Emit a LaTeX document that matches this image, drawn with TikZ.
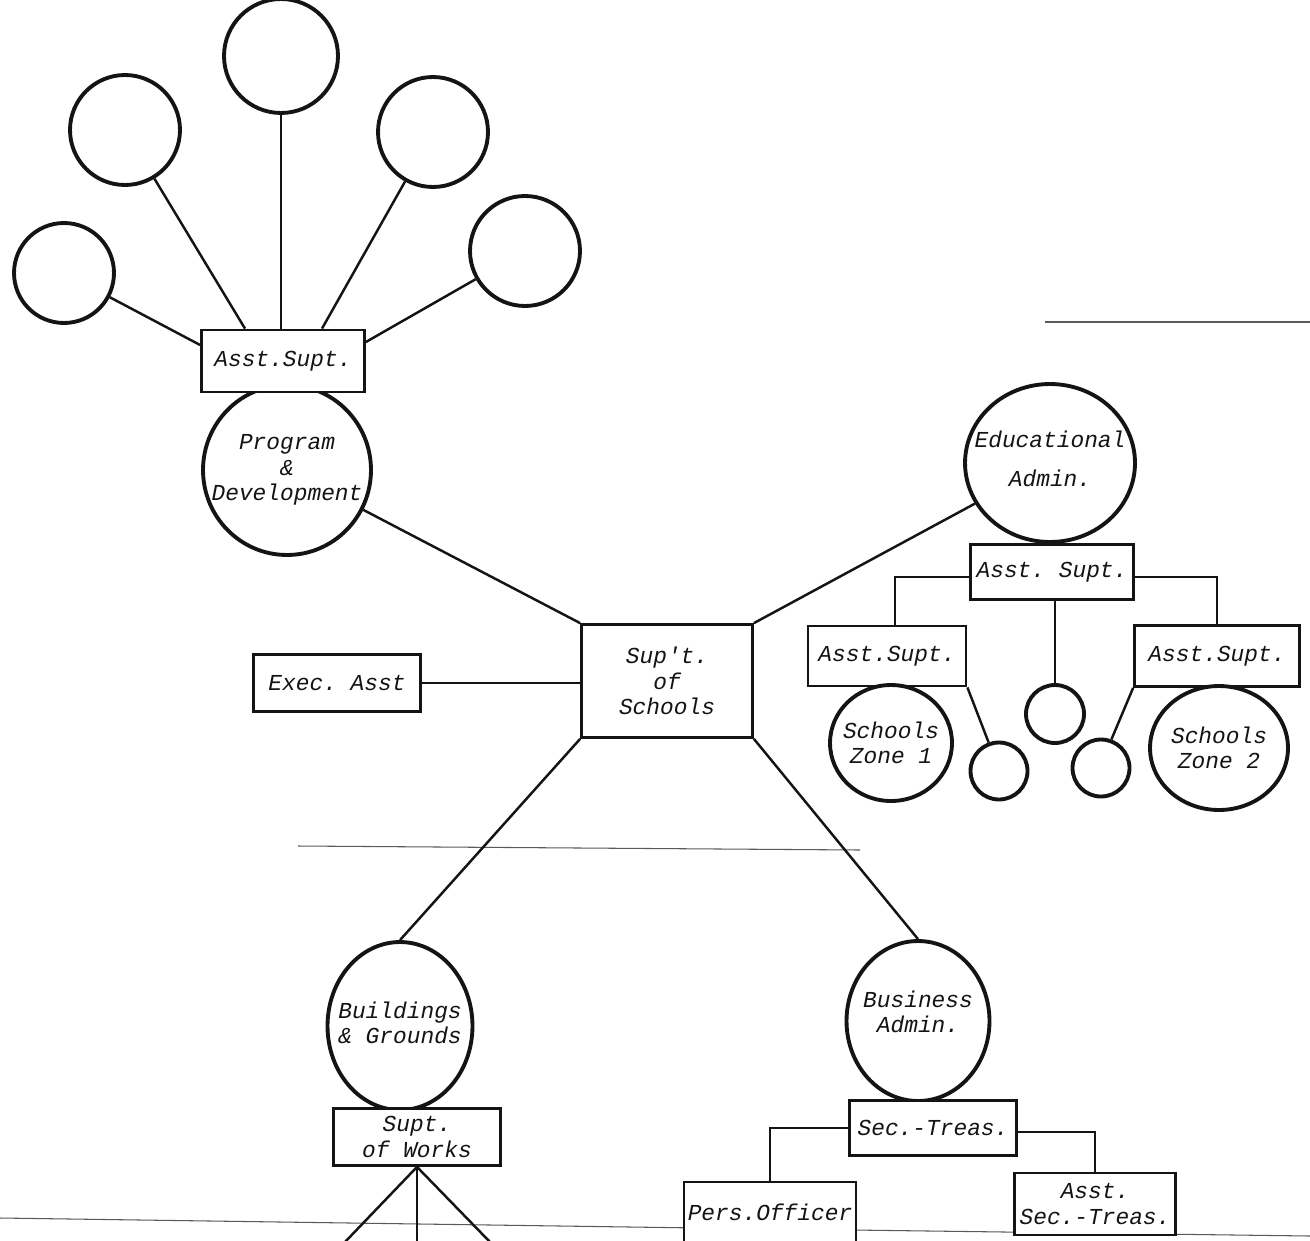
\documentclass[tikz,border=0pt]{standalone}
\usepackage{fontspec}
\setmonofont{Liberation Mono}
\usetikzlibrary{shapes.geometric,positioning,calc}
\definecolor{ink}{HTML}{141414}
\definecolor{smudge}{HTML}{5A5A5A}
\newcommand{\chartfont}{\ttfamily\itshape\fontsize{13}{14.5}\selectfont}
\tikzset{
  ring/.style={circle, draw=ink, line width=2.2pt, inner sep=0pt},
  oval/.style={ellipse, draw=ink, line width=2.2pt, inner sep=0pt},
  txt/.style={font=\chartfont, align=center, text=ink},
  card/.style={rectangle, draw=ink, fill=white, line width=1.6pt, inner sep=2pt, align=center, font=\chartfont, text=ink},
  link/.style={draw=ink, line width=1.4pt},
  bleed/.style={draw=smudge, line width=0.6pt}
}

\begin{document}
\begin{tikzpicture}[x=0.02cm, y=-0.02cm]
\path[fill=white, use as bounding box] (0,0) rectangle (1310,1240);
% marks from the scan
\draw[bleed] (298,846) -- (860,850);
\draw[bleed] (1045,322) -- (1310,322);
\draw[bleed] (0,1218) -- (700,1228) -- (1310,1236);

% program branch
\node[ring, minimum size=2.0cm] (c1) at (64,273) {};
\node[ring, minimum size=2.2cm] (c2) at (125,130) {};
\node[ring, minimum size=2.28cm] (c3) at (281,56) {};
\node[ring, minimum size=2.2cm] (c4) at (433,132) {};
\node[ring, minimum size=2.2cm] (c5) at (525,251) {};
\node[oval, minimum width=3.36cm, minimum height=3.4cm, label={[txt]center:Program\\\&\\Development}] (prog) at (287,470) {};
\node[card, minimum width=3.26cm, minimum height=1.24cm] (asst) at (283,361) {Asst.Supt.};

\draw[link] (c1) -- ([yshift=0.32cm]asst.west);
\draw[link] (c2) -- ([xshift=-0.76cm]asst.north);
\draw[link] (c3.south) -- (c3.south |- asst.north);
\draw[link] (c4) -- ([xshift=0.78cm]asst.north);
\draw[link] (c5) -- ([yshift=0.38cm]asst.east);

% centre
\node[card, minimum width=3.42cm, minimum height=2.26cm] (supt) at (667,681) {Sup't.\\of\\Schools};
\node[card, minimum width=3.34cm, minimum height=1.14cm] (exec) at (337,683) {Exec. Asst};
\draw[link] (prog) -- (supt.north west);
\draw[link] (exec.east) -- (exec.east -| supt.west);

% educational branch
\node[oval, minimum width=3.4cm, minimum height=3.16cm, label={[txt, yshift=0.08cm]center:Educational\\[8pt]Admin.}] (edu) at (1050,463) {};
\node[card, minimum width=3.26cm, minimum height=1.1cm] (amid) at (1052,572) {Asst. Supt.};
\node[card, minimum width=3.16cm, minimum height=1.2cm] (aleft) at (887,656) {Asst.Supt.};
\node[card, minimum width=3.3cm, minimum height=1.22cm] (aright) at (1217,656) {Asst.Supt.};
\node[oval, minimum width=2.44cm, minimum height=2.32cm, label={[txt]center:Schools\\Zone 1}] (zone1) at (891,743) {};
\node[oval, minimum width=2.76cm, minimum height=2.48cm, label={[txt]center:Schools\\Zone 2}] (zone2) at (1219,748) {};
\node[ring, minimum size=1.14cm] (s1) at (999,771) {};
\node[ring, minimum size=1.16cm] (s2) at (1055,714) {};
\node[ring, minimum size=1.14cm] (s3) at (1101,768) {};

\draw[link] (supt.north east) -- (edu);
\draw[link] (edu.south) -- (amid.north);
\draw[link] ([yshift=-0.1cm]amid.west) -| ([xshift=0.16cm]aleft.north);
\draw[link] ([yshift=-0.1cm]amid.east) -| (aright.north);
\draw[link] (amid.south -| s2.north) -- (s2.north);
\draw[link] (aleft.south east) -- (s1.110);
\draw[link] (aright.south west) -- (s3.70);

% buildings branch
\node[oval, minimum width=2.9cm, minimum height=3.36cm, label={[txt, yshift=0.06cm]center:Buildings\\\& Grounds}] (bldg) at (400,1026) {};
\node[card, minimum width=3.34cm, minimum height=1.14cm] (works) at (417,1137) {Supt.\\of Works};
\coordinate (w1) at (345,1242);
\coordinate (w2) at (417,1242);
\coordinate (w3) at (490,1242);
\draw[link] (supt.south west) -- (bldg.north);
\draw[link] (works.south) -- (w1);
\draw[link] (works.south) -- (w2);
\draw[link] (works.south) -- (w3);

% business branch
\node[oval, minimum width=2.86cm, minimum height=3.2cm, label={[txt, yshift=0.18cm]center:Business\\Admin.}] (bus) at (918,1021) {};
\node[card, minimum width=3.34cm, minimum height=1.1cm] (sec) at (933,1128) {Sec.-Treas.};
\node[card, minimum width=3.44cm, minimum height=1.2cm] (pers) at (770,1212) {Pers.Officer};
\node[card, minimum width=3.22cm, minimum height=1.24cm] (asec) at (1095,1204) {Asst.\\Sec.-Treas.};
\draw[link] (supt.south east) -- (bus.north);
\draw[link] (sec.west) -| (pers.north);
\draw[link] ([yshift=-0.08cm]sec.east) -| (asec.north);
\end{tikzpicture}
\end{document}
